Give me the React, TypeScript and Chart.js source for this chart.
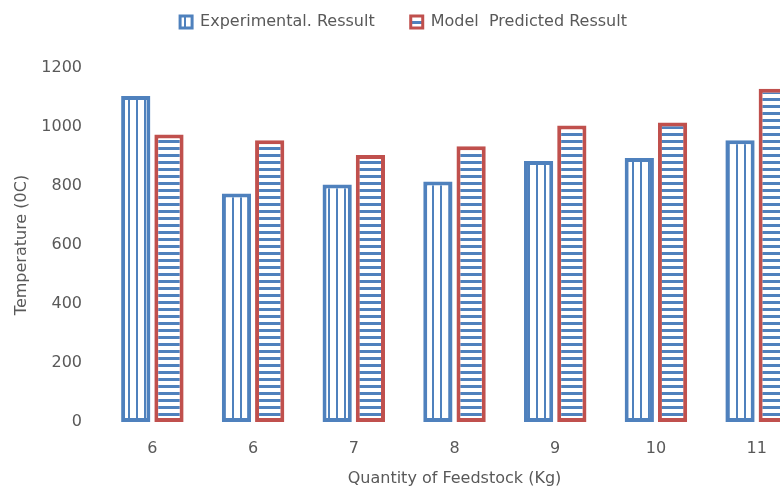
import React, { useEffect, useRef } from "react";
import { Chart, registerables } from "chart.js";

Chart.register(...registerables);

const categories = ["6", "6", "7", "8", "9", "10", "11"];
const experimental = [1105, 775, 805, 815, 885, 895, 955];
const predicted = [975, 955, 905, 935, 1005, 1015, 1130];
const yTicks = [0, 200, 400, 600, 800, 1000, 1200];

const BLUE = "#4F81BD";
const RED = "#C0504D";
const TEXT = "#595959";
const FONT = "'DejaVu Sans', sans-serif";

function verticalStripes(): CanvasPattern | string {
  const c = document.createElement("canvas");
  c.width = 8;
  c.height = 4;
  const g = c.getContext("2d");
  if (!g) return "#fff";
  g.fillStyle = "#fff";
  g.fillRect(0, 0, 8, 4);
  g.fillStyle = BLUE;
  g.fillRect(0, 0, 2, 4);
  return g.createPattern(c, "repeat") || "#fff";
}

function horizontalStripes(): CanvasPattern | string {
  const c = document.createElement("canvas");
  c.width = 4;
  c.height = 7;
  const g = c.getContext("2d");
  if (!g) return "#fff";
  g.fillStyle = "#fff";
  g.fillRect(0, 0, 4, 7);
  g.fillStyle = BLUE;
  g.fillRect(0, 0, 4, 3);
  return g.createPattern(c, "repeat") || "#fff";
}

export default function App() {
  const ref = useRef<HTMLCanvasElement>(null);

  useEffect(() => {
    if (!ref.current) return;
    const expFill = verticalStripes();
    const predFill = horizontalStripes();

    const chart = new Chart(ref.current, {
      type: "bar",
      data: {
        labels: categories,
        datasets: [
          {
            label: "Experimental. Ressult",
            data: experimental,
            backgroundColor: expFill,
            borderColor: BLUE,
            borderWidth: 4,
            borderSkipped: false,
            categoryPercentage: 0.66,
            barPercentage: 0.88,
          },
          {
            label: "Model  Predicted Ressult",
            data: predicted,
            backgroundColor: predFill,
            borderColor: RED,
            borderWidth: 4,
            borderSkipped: false,
            categoryPercentage: 0.66,
            barPercentage: 0.88,
          },
        ],
      },
      options: {
        animation: false,
        responsive: false,
        layout: { padding: { top: -22, right: 15, bottom: 0, left: 0 } },
        plugins: {
          tooltip: { enabled: false },
          // empty spacer between the legend and the plot
          subtitle: {
            display: true,
            text: "",
            position: "top",
            weight: 500,
            font: { size: 10 },
            padding: { top: 8, bottom: 8 },
          },
          legend: {
            position: "top",
            labels: {
              color: TEXT,
              font: { family: FONT, size: 16 },
              boxWidth: 12,
              boxHeight: 12,
              padding: 36,
              generateLabels: (ch) =>
                ch.data.datasets.map((ds, i) => ({
                  text: ds.label as string,
                  fillStyle: i === 0 ? expFill : predFill,
                  strokeStyle: i === 0 ? BLUE : RED,
                  lineWidth: 3,
                  hidden: false,
                  datasetIndex: i,
                  fontColor: TEXT,
                })) as any,
            },
          },
        },
        scales: {
          x: {
            grid: { display: false, drawTicks: false },
            border: { display: false },
            ticks: {
              color: TEXT,
              font: { family: FONT, size: 16 },
              padding: 17,
            },
            title: {
              display: true,
              text: "Quantity of Feedstock (Kg)",
              color: TEXT,
              font: { family: FONT, size: 16 },
              padding: { top: 0, bottom: 1 },
            },
            afterFit: (s: any) => {
              s.height = 67;
            },
          },
          y: {
            min: 0,
            max: 1200,
            grid: { display: false, drawTicks: false },
            border: { display: false },
            afterBuildTicks: (s: any) => {
              s.ticks = yTicks.map((v) => ({ value: v }));
            },
            ticks: {
              color: TEXT,
              font: { family: FONT, size: 16 },
              padding: 20,
              callback: (v: any) => String(v),
            },
            title: {
              display: true,
              text: "Temperature (0C)",
              color: TEXT,
              font: { family: FONT, size: 16 },
              padding: { top: 12, bottom: 0 },
            },
            afterFit: (s: any) => {
              s.width = 102;
            },
          },
        },
      },
    });
    return () => chart.destroy();
  }, []);

  return (
    <div
      style={{
        position: "fixed",
        left: 0,
        top: 0,
        width: 780,
        height: 489,
        overflow: "hidden",
        background: "#fff",
      }}
    >
      <canvas ref={ref} width={822} height={489} style={{ display: "block" }} />
    </div>
  );
}
